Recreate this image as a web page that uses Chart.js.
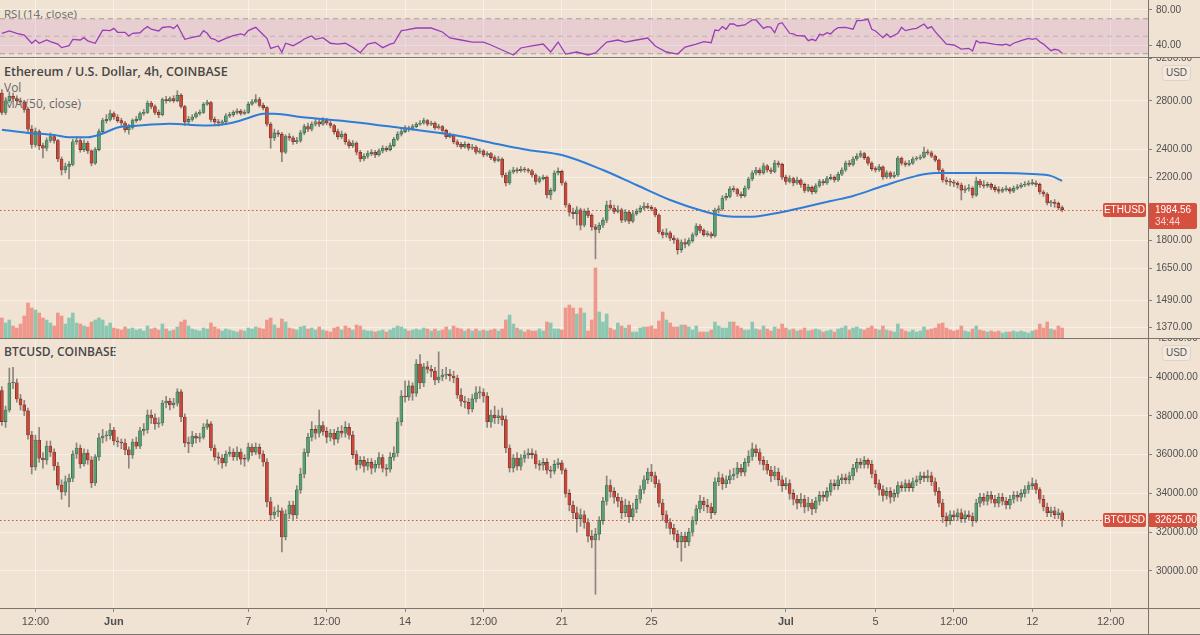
<!DOCTYPE html>
<html>
<head>
<meta charset="utf-8">
<title>ETHUSD / BTCUSD 4h</title>
<script src="https://cdn.jsdelivr.net/npm/chart.js@4.4.1/dist/chart.umd.min.js"></script>
<style>
  html, body { margin:0; padding:0; background:#f1e3d4; }
  #wrap { position:relative; width:1200px; height:635px; overflow:hidden; background:#f1e3d4; font-family:'Open Sans','Liberation Sans',sans-serif; }
  canvas { position:absolute; left:0; z-index:1; }
  .lbl { position:absolute; left:4px; white-space:nowrap; z-index:0; line-height:16px; }
  .sep { position:absolute; background:#7a746e; z-index:2; }
  .usd { position:absolute; left:1162px; width:27px; height:14px; line-height:14px; font-size:10px; text-align:center; color:#555; border:1px solid #e0d3c6; border-radius:3px; background:#f4e9de; z-index:2; font-family:'Liberation Sans',sans-serif; }
</style>
</head>
<body>
<div id="wrap">
  <div class="lbl" style="top:6px;font-size:11.5px;color:#6a6a6a;">RSI (14, close)</div>
  <div class="lbl" style="top:64px;font-size:12.5px;font-weight:600;color:#474747;">Ethereum / U.S. Dollar, 4h, COINBASE</div>
  <div class="lbl" style="top:80px;font-size:12px;color:#666;">Vol</div>
  <div class="lbl" style="top:96px;font-size:12px;color:#666;">MA (50, close)</div>
  <div class="lbl" style="top:344px;font-size:12px;font-weight:600;color:#474747;">BTCUSD, COINBASE</div>
  <canvas id="rsi" width="1200" height="57" style="top:0"></canvas>
  <canvas id="eth" width="1200" height="280" style="top:58px"></canvas>
  <canvas id="btc" width="1200" height="296" style="top:339px"></canvas>
  <div class="sep" style="left:0;top:57px;width:1200px;height:1px"></div>
  <div class="sep" style="left:0;top:338px;width:1200px;height:1px"></div>
  <div class="sep" style="left:0;top:608px;width:1200px;height:1px"></div>
  <div class="sep" style="left:0;top:634px;width:1200px;height:1px"></div>
  <div class="sep" style="left:1148px;top:0;width:1px;height:635px"></div>
  <div class="usd" style="top:65px">USD</div>
  <div class="usd" style="top:345px">USD</div>
</div>
<script>
// ---------------- DATA (4h candles, index 0 = May 27 00:00) ----------------
const xTickIdx    = [9, 30, 66, 87, 108, 129, 150, 174, 210, 234, 255, 276, 297];
const xTickLabels = ['12:00','Jun','7','12:00','14','12:00','21','25','Jul','5','12:00','12','12:00'];

const ethTicks = [3200, 2800, 2400, 2200, 1800, 1650, 1490, 1370];
const btcTicks = [42000, 40000, 38000, 36000, 34000, 32000, 30000];
const rsiTicks = [80, 40];
const rsiUpper = 70, rsiMid = 50, rsiLower = 30;

const ethOpen = [2870,2700,2800,2840,2820,2800,2790,2725,2560,2440,
2540,2430,2410,2470,2500,2470,2330,2250,2275,2290,
2460,2470,2400,2450,2390,2300,2400,2540,2630,2640,
2690,2660,2630,2610,2555,2575,2630,2640,2690,2700,
2780,2750,2700,2680,2810,2800,2820,2800,2850,2750,
2620,2640,2660,2690,2700,2770,2785,2640,2620,2610,
2620,2670,2680,2700,2710,2690,2700,2770,2790,2810,
2760,2740,2600,2490,2530,2520,2380,2500,2490,2460,
2470,2530,2580,2560,2600,2620,2600,2630,2610,2590,
2540,2500,2520,2460,2430,2450,2380,2330,2350,2370,
2380,2360,2390,2410,2400,2430,2480,2520,2540,2570,
2560,2580,2600,2610,2630,2600,2610,2570,2580,2550,
2500,2510,2460,2440,2420,2440,2410,2420,2380,2390,
2360,2370,2340,2320,2330,2215,2160,2236,2250,2245,
2255,2250,2245,2215,2170,2190,2201,2080,2110,2229,
2240,2160,2015,1970,1960,1985,1890,1975,1950,1880,
1865,1890,1920,2015,1996,1975,1985,1921,1970,1915,
1960,1975,1995,2008,2000,1990,1952,1850,1833,1845,
1815,1805,1750,1790,1780,1800,1833,1885,1860,1835,
1840,1827,1983,1990,2060,2070,2120,2115,2086,2075,
2126,2187,2229,2250,2230,2280,2250,2240,2300,2290,
2200,2170,2190,2160,2180,2150,2110,2130,2100,2140,
2170,2160,2190,2200,2180,2220,2250,2300,2290,2330,
2350,2370,2340,2300,2260,2250,2272,2201,2230,2205,
2215,2337,2300,2290,2300,2330,2335,2344,2382,2375,
2350,2322,2250,2180,2170,2165,2159,2146,2112,2120,
2126,2079,2173,2146,2140,2150,2130,2115,2105,2115,
2120,2105,2125,2133,2146,2150,2155,2160,2150,2099,
2086,2028,2030,2025,1998];
const ethHigh = [2900,2830,2880,2870,2845,2825,2805,2740,2590,2570,
2555,2450,2490,2530,2515,2480,2345,2300,2310,2480,
2500,2485,2475,2465,2400,2415,2560,2650,2680,2720,
2705,2680,2650,2625,2600,2645,2665,2705,2725,2800,
2795,2765,2720,2825,2840,2835,2845,2890,2865,2760,
2665,2680,2705,2720,2785,2805,2795,2660,2640,2635,
2690,2700,2715,2730,2725,2720,2790,2810,2855,2830,
2780,2750,2615,2560,2550,2535,2515,2525,2505,2495,
2550,2600,2610,2620,2645,2640,2655,2650,2625,2600,
2560,2545,2530,2475,2470,2460,2395,2370,2390,2400,
2395,2405,2430,2425,2450,2495,2540,2560,2590,2585,
2600,2615,2630,2650,2640,2625,2620,2600,2590,2560,
2530,2520,2475,2455,2460,2450,2440,2430,2410,2400,
2385,2380,2355,2350,2340,2230,2250,2270,2265,2275,
2270,2262,2255,2225,2205,2215,2210,2125,2245,2265,
2250,2170,2025,1995,2005,1995,1990,1995,1960,1895,
1905,1935,2040,2045,2015,2010,1995,1985,1980,1975,
1990,2010,2030,2025,2012,2000,1960,1865,1870,1855,
1830,1815,1805,1810,1815,1845,1900,1895,1870,1855,
1850,1995,2010,2075,2090,2135,2140,2125,2100,2140,
2200,2245,2270,2265,2300,2290,2265,2320,2315,2300,
2215,2210,2200,2200,2190,2160,2150,2140,2155,2185,
2185,2205,2220,2210,2235,2265,2315,2320,2345,2370,
2390,2380,2350,2310,2275,2290,2280,2245,2240,2235,
2350,2345,2315,2320,2345,2350,2360,2420,2400,2390,
2360,2330,2260,2200,2190,2180,2170,2160,2140,2150,
2135,2200,2185,2175,2165,2160,2145,2135,2130,2140,
2130,2140,2150,2160,2170,2175,2185,2175,2160,2110,
2095,2045,2050,2035,2010];
const ethLow = [2680,2680,2785,2795,2770,2760,2700,2540,2410,2420,
2400,2337,2390,2455,2450,2310,2215,2230,2187,2280,
2440,2380,2385,2370,2280,2290,2390,2525,2610,2625,
2640,2615,2590,2535,2520,2560,2615,2630,2675,2690,
2730,2680,2655,2670,2780,2790,2785,2790,2735,2590,
2600,2625,2650,2675,2690,2760,2620,2600,2585,2595,
2610,2655,2665,2685,2675,2680,2690,2760,2780,2745,
2720,2585,2410,2470,2500,2310,2370,2470,2440,2445,
2455,2515,2540,2545,2585,2580,2590,2595,2570,2520,
2480,2485,2440,2410,2415,2360,2310,2315,2335,2355,
2340,2350,2375,2385,2390,2420,2470,2505,2530,2540,
2550,2570,2590,2600,2585,2590,2555,2560,2530,2485,
2490,2445,2420,2405,2410,2395,2400,2365,2370,2345,
2350,2325,2305,2310,2200,2140,2150,2225,2230,2235,
2235,2230,2200,2150,2160,2180,2060,2050,2100,2215,
2145,2000,1945,1930,1891,1862,1880,1935,1860,1700,
1845,1875,1905,1985,1960,1965,1905,1910,1900,1905,
1950,1965,1985,1990,1978,1940,1840,1815,1820,1800,
1785,1725,1735,1760,1770,1790,1825,1845,1825,1825,
1815,1820,1965,1980,2045,2060,2100,2070,2060,2065,
2115,2175,2215,2215,2220,2235,2225,2230,2270,2185,
2150,2160,2140,2150,2130,2095,2100,2085,2090,2130,
2145,2150,2180,2165,2170,2210,2240,2275,2280,2320,
2340,2325,2285,2245,2235,2240,2185,2190,2190,2195,
2205,2285,2275,2280,2290,2320,2325,2335,2360,2340,
2310,2235,2165,2150,2140,2135,2125,2047,2095,2105,
2060,2070,2130,2125,2130,2115,2100,2090,2095,2105,
2090,2095,2115,2125,2135,2140,2145,2135,2085,2070,
2015,2005,2000,1985,1972];
const ethClose = [2700,2800,2840,2820,2800,2790,2725,2560,2440,2540,
2430,2410,2470,2500,2470,2330,2250,2275,2290,2460,
2470,2400,2450,2390,2300,2400,2540,2630,2640,2690,
2660,2630,2610,2555,2575,2630,2640,2690,2700,2780,
2750,2700,2680,2810,2800,2820,2800,2850,2750,2620,
2640,2660,2690,2700,2770,2785,2640,2620,2610,2620,
2670,2680,2700,2710,2690,2700,2770,2790,2810,2760,
2740,2600,2490,2530,2520,2380,2500,2490,2460,2470,
2530,2580,2560,2600,2620,2600,2630,2610,2590,2540,
2500,2520,2460,2430,2450,2380,2330,2350,2370,2380,
2360,2390,2410,2400,2430,2480,2520,2540,2570,2560,
2580,2600,2610,2630,2600,2610,2570,2580,2550,2500,
2510,2460,2440,2420,2440,2410,2420,2380,2390,2360,
2370,2340,2320,2330,2215,2160,2236,2250,2245,2255,
2250,2245,2215,2170,2190,2201,2080,2110,2229,2240,
2160,2015,1970,1960,1985,1890,1975,1950,1880,1865,
1890,1920,2015,1996,1975,1985,1921,1970,1915,1960,
1975,1995,2008,2000,1990,1952,1850,1833,1845,1815,
1805,1750,1790,1780,1800,1833,1885,1860,1835,1840,
1827,1983,1990,2060,2070,2120,2115,2086,2075,2126,
2187,2229,2250,2230,2280,2250,2240,2300,2290,2200,
2170,2190,2160,2180,2150,2110,2130,2100,2140,2170,
2160,2190,2200,2180,2220,2250,2300,2290,2330,2350,
2370,2340,2300,2260,2250,2272,2201,2230,2205,2215,
2337,2300,2290,2300,2330,2335,2344,2382,2375,2350,
2322,2250,2180,2170,2165,2159,2146,2112,2120,2126,
2079,2173,2146,2140,2150,2130,2115,2105,2115,2120,
2105,2125,2133,2146,2150,2155,2160,2150,2099,2086,
2028,2030,2025,1998,1984.56];

// ETH volume, thousands of ETH
const ethVolume = [100,75,90,60,50,70,110,175,150,140,125,100,90,75,60,125,110,70,100,125,75,70,60,55,80,90,100,90,60,75,50,
45,40,55,45,50,40,45,35,60,45,50,40,70,45,35,40,55,80,90,60,45,40,35,50,45,75,55,45,35,45,40,35,30,40,35,50,45,55,50,45,
90,100,65,50,95,80,50,45,40,55,60,45,50,40,55,40,35,30,50,55,40,60,50,40,65,60,40,35,35,30,35,40,30,40,50,60,55,45,35,40,
45,40,50,45,35,45,35,40,55,40,60,50,45,35,45,35,45,35,40,35,40,45,35,
45,90,115,70,50,40,30,40,35,35,45,35,80,75,45,45,40,150,165,150,120,150,125,35,90,350,130,80,120,50,40,75,60,50,65,30,30,50,55,55,60,
45,85,130,90,75,55,55,65,65,55,40,60,30,30,30,40,80,60,50,50,80,80,60,50,40,40,80,
45,40,60,45,35,55,45,70,50,40,45,35,40,50,35,40,45,40,30,35,40,30,45,50,60,40,50,55,45,40,
50,60,45,40,60,40,35,30,70,45,35,30,40,30,35,55,40,45,50,70,75,50,40,35,40,60,35,30,45,60,
40,35,30,35,30,35,25,30,30,35,30,35,30,25,35,40,70,50,80,45,40,60,50];

// MA(50, close)
const maIdx = [0,7,14,18,23,27,31,36,45,54,58,62,66,70,73,80,94,107,121,134,141,150,161,170,179,188,192,196,201,209,214,222,228,236,245,250,258,267,276,281,284];
const maVal = [2555,2530,2513,2495,2495,2525,2573,2588,2605,2590,2594,2614,2652,2688,2688,2660,2619,2569,2513,2435,2397,2359,2250,2146,2047,1975,1952,1942,1942,1971,1996,2040,2073,2139,2209,2229,2229,2229,2222,2209,2174];

// RSI(14, close)
const rsiIdx = [0,2,4,6,8,9,10,12,13,15,16,18,19,21,22,23,25,26,27,29,30,31,33,34,35,37,38,39,40,42,43,45,46,47,49,51,53,54,55,56,57,58,60,62,64,65,66,68,69,71,72,74,75,76,78,80,81,83,84,86,88,90,92,94,96,98,100,101,102,104,105,107,108,111,115,118,120,123,126,129,131,134,137,139,142,145,147,149,151,154,157,159,162,165,167,170,173,175,178,181,183,186,188,190,191,192,193,194,195,196,197,199,201,202,204,205,206,207,208,209,211,212,213,215,216,217,218,219,220,221,222,223,224,226,228,229,230,232,233,234,236,237,238,240,241,242,244,245,247,248,249,250,253,255,257,259,260,261,262,263,266,268,269,270,271,273,275,276,277,278,279,281,282,283,284];
const rsiVal = [53.4,56,53.4,51.4,42,45.7,42,45.7,43.8,41,37,39.2,46.5,45.7,48.4,44.6,42,49.5,57,56.4,59,54.5,54.5,50.3,53.4,54,58,61,58,56,60,61,59,62.9,46.5,48.8,50.3,56.4,53.4,47.6,46.5,43.8,47.6,50.6,52.6,51.4,56.4,60.2,56,47.6,36.2,38.9,31.6,42,39.2,43.8,46.9,50.3,46.5,48.4,42,41,42,37.3,31.2,41,43,40,37,41,42,56.4,57,59.4,59.4,54.9,48,45.7,43.4,43.4,40,34.3,28.6,36.6,38.9,41.1,32,43.4,29.7,32,28.6,30.9,43.4,45.7,43.4,45.7,48,38.9,32,29.7,37.7,41.1,43.8,42.6,57.1,56.4,61,58,64,64,61.7,62.9,68.6,68.6,59,61,60.2,54,64,65.5,53.4,52.6,50.6,50.3,44.9,46.5,44.9,52.2,51.4,54,52.6,57.1,59.8,60.2,58,67.8,67.8,69.4,58,56,48.4,52.6,48.8,53.4,60.2,56.4,58.3,59,64,59,61,55.2,41,40,35.4,36.2,33.1,44.9,42.6,43,40.8,40,41,39.2,42,44.9,47.6,46.5,47.6,43.8,41,33.5,35.1,34.3,30.5];

const btcOpen = [39300,37700,38300,39690,39700,38870,38560,38250,37010,35360,
36750,35820,35720,36440,36130,35410,34430,34070,34590,34790,
36030,36340,35520,36080,35720,34540,35880,36860,36960,36990,
37270,36700,36650,36600,36240,35980,36650,36440,37220,37300,
38040,37890,37580,37630,38660,38760,38560,38650,39230,37940,
36600,36570,36960,36850,36900,37420,37580,36340,35880,35820,
35570,36030,36130,35880,36130,35770,35760,36390,36130,36380,
36030,35620,33560,32890,33040,33100,31750,32940,33400,32890,
34180,35000,36100,36900,37300,37100,37500,37200,36900,37100,
36800,37200,37100,37400,37000,36000,35500,35700,35400,35600,
35300,35500,35850,35300,35250,35870,36080,37680,39020,38970,
39540,39170,40670,39690,40520,40400,40300,39850,40000,40100,
40150,40050,39950,39070,38760,38700,38350,38870,39180,39200,
39020,37680,38040,37900,38000,37800,36340,35310,35820,35400,
35820,35980,36080,36000,35520,35450,35600,35200,35150,35500,
35570,35200,34000,33400,33000,32700,32900,32500,31800,31600,
31900,32600,33600,34400,34100,33800,33600,33000,33400,32800,
33200,33700,34200,34700,35100,34900,34500,33500,32900,32500,
32200,31900,31500,31800,31500,32000,32600,33200,33600,33400,
33300,33000,34600,34800,34500,34700,34900,35000,35300,35100,
35600,35900,36300,36100,35700,35500,35200,34900,35100,34700,
34400,34500,34000,33700,33500,33700,33300,33500,33200,33600,
33900,33800,34100,34500,34400,34700,34800,34700,34900,35300,
35600,35500,35700,35500,35000,34500,34200,33900,34100,33800,
34000,34400,34300,34500,34300,34600,34700,34900,34800,34900,
34600,34100,33500,32800,32600,32900,32800,33000,32700,32900,
32800,32600,33500,33800,33600,33900,33700,33500,33800,33600,
33400,33700,33900,33800,34000,34200,34400,34500,34200,33700,
33300,33000,33100,32900,33000];
const btcHigh = [39500,38500,40460,40500,39900,39100,38800,38400,37200,37000,
37400,36100,36700,36700,36300,35600,34700,34900,35000,36200,
36600,36500,36300,36250,35900,36000,37100,37300,37200,37600,
37400,36900,36800,36800,36400,36800,36900,37400,37600,38300,
38300,38100,37900,38800,39000,38900,38900,39400,39350,38100,
36900,37200,37100,37100,37600,37800,37700,36500,36100,36000,
36200,36400,36300,36400,36300,36000,36600,36550,36600,36550,
36200,35800,33800,33300,33400,33250,33150,33600,33600,34400,
35300,36300,37100,37700,37500,38300,37700,37400,37300,37300,
37400,37500,37700,37600,37200,36200,35900,35900,35800,35800,
35700,36100,36000,35500,36100,36400,37900,39300,39800,39800,
39700,40900,41150,40700,40800,40600,40500,41300,40400,40500,
40400,40300,40100,39400,39000,38900,39100,39500,39500,39400,
39200,38300,38500,38300,38400,38000,36500,36000,36100,36000,
36200,36300,36300,36200,35700,35800,35800,35400,35700,35800,
35700,35300,34200,33600,33300,33200,33100,32700,32100,32200,
32800,33800,34900,34700,34300,34000,33800,33700,33600,33500,
33900,34400,34900,35300,35500,35100,34700,33700,33100,32700,
32400,32100,32000,32000,32200,32800,33400,33900,33800,33700,
33500,34800,35100,35000,34900,35200,35300,35600,35500,35800,
36200,36600,36500,36300,35900,35700,35400,35400,35300,34900,
34800,34700,34200,33900,34000,33900,33800,33700,33800,34100,
34100,34300,34700,34700,34900,35000,35000,35100,35500,35800,
35800,35900,35800,35700,35200,34700,34400,34300,34300,34200,
34600,34600,34700,34700,34800,34900,35100,35100,35200,35100,
34800,34300,33700,33000,33100,33100,33200,33200,33100,33100,
33000,33700,34000,34000,34100,34100,33900,34000,34000,33800,
33900,34100,34100,34200,34400,34600,34800,34700,34300,33900,
33500,33300,33300,33200,33100];
const btcLow = [37500,37400,38200,39400,38700,38300,38000,36800,35000,35200,
35600,35300,35500,35900,35200,34200,33700,33900,33300,34600,
35800,35300,35400,35500,34300,34400,35700,36600,36700,36800,
36500,36400,36300,36000,35300,35800,36300,36300,37000,37100,
37600,37300,37400,37500,38400,38300,38400,38500,37700,36400,
36100,36400,36600,36650,36800,37300,36200,35700,35500,35300,
35400,35900,35700,35700,35500,35400,35650,35950,36000,35800,
35400,33300,32600,32700,32800,30980,31600,32700,32600,32700,
34000,34800,35900,36700,36800,36900,37000,36600,36700,36500,
36600,36900,36900,36800,35800,35200,35300,35100,35200,35000,
35100,35300,35100,34900,35100,35700,35900,37500,38700,38800,
38800,39000,39400,39500,40200,40000,39600,39700,39800,39900,
39800,39700,38900,38500,38400,38100,38200,38700,38900,38700,
37400,37400,37600,37600,37500,36100,35100,35100,35200,35200,
35600,35800,35800,35300,35200,35200,35000,34800,35000,35300,
35000,33800,33100,32700,32000,32300,32200,31500,31200,28800,
31600,32400,33400,33800,33500,33300,32700,32800,32500,32600,
33000,33500,34000,34500,34600,34300,33300,32600,32200,31900,
31600,31200,30500,31200,31300,31800,32400,33000,33100,33000,
32700,32900,34400,34200,34300,34500,34700,34800,34900,34900,
35400,35700,35900,35500,35200,35000,34600,34700,34400,34100,
34200,33700,33400,33200,33300,33000,33100,32900,33000,33400,
33600,33600,33900,34200,34200,34500,34500,34500,34700,35100,
35300,35300,35300,34800,34300,33900,33600,33700,33500,33600,
33800,34100,34100,34100,34100,34400,34500,34600,34600,34400,
33900,33300,32500,32300,32400,32600,32600,32500,32500,32600,
32300,32500,33300,33400,33400,33500,33300,33300,33400,33200,
33200,33500,33600,33600,33800,34000,34200,34000,33500,33100,
32800,32800,32700,32700,32300];
const btcClose = [37700,38300,39690,39700,38870,38560,38250,37010,35360,36750,
35820,35720,36440,36130,35410,34430,34070,34590,34790,36030,
36340,35520,36080,35720,34540,35880,36860,36960,36990,37270,
36700,36650,36600,36240,35980,36650,36440,37220,37300,38040,
37890,37580,37630,38660,38760,38560,38650,39230,37940,36600,
36570,36960,36850,36900,37420,37580,36340,35880,35820,35570,
36030,36130,35880,36130,35770,35760,36390,36130,36380,36030,
35620,33560,32890,33040,33100,31750,32940,33400,32890,34180,
35000,36100,36900,37300,37100,37500,37200,36900,37100,36800,
37200,37100,37400,37000,36000,35500,35700,35400,35600,35300,
35500,35850,35300,35250,35870,36080,37680,39020,38970,39540,
39170,40670,39690,40520,40400,40300,39850,40000,40100,40150,
40050,39950,39070,38760,38700,38350,38870,39180,39200,39020,
37680,38040,37900,38000,37800,36340,35310,35820,35400,35820,
35980,36080,36000,35520,35450,35600,35200,35150,35500,35570,
35200,34000,33400,33000,32700,32900,32500,31800,31600,31900,
32600,33600,34400,34100,33800,33600,33000,33400,32800,33200,
33700,34200,34700,35100,34900,34500,33500,32900,32500,32200,
31900,31500,31800,31500,32000,32600,33200,33600,33400,33300,
33000,34600,34800,34500,34700,34900,35000,35300,35100,35600,
35900,36300,36100,35700,35500,35200,34900,35100,34700,34400,
34500,34000,33700,33500,33700,33300,33500,33200,33600,33900,
33800,34100,34500,34400,34700,34800,34700,34900,35300,35600,
35500,35700,35500,35000,34500,34200,33900,34100,33800,34000,
34400,34300,34500,34300,34600,34700,34900,34800,34900,34600,
34100,33500,32800,32600,32900,32800,33000,32700,32900,32800,
32600,33500,33800,33600,33900,33700,33500,33800,33600,33400,
33700,33900,33800,34000,34200,34400,34500,34200,33700,33300,
33000,33100,32900,33000,32625];

const ethCountdown = '34:44';

// ---------------- STYLE ----------------
const FONT = "'Liberation Sans', Arial, sans-serif";
const xMin = -0.5, xMax = 307;
const gridColor = 'rgba(255,255,255,0.45)';
const tickMarkColor = '#8a847e';
const labelColor = '#4f4f4f';
const upFill = '#5c9e74', upBorder = '#2f5b3f';
const downFill = '#c8493b', downBorder = '#6e261c';
const wickColor = '#8b857d';
const volUp = '#8cc7b1', volDown = '#ee978b';
const tagRed = '#d5503f';

Chart.defaults.font.family = FONT;
Chart.defaults.animation = false;

function xScale(showLabels) {
  return {
    type: 'linear', min: xMin, max: xMax, offset: false, bounds: 'data',
    grid: { color: gridColor, offset: false, drawTicks: showLabels, tickLength: 4, tickColor: tickMarkColor },
    border: { display: false },
    ticks: {
      display: showLabels, autoSkip: false, maxRotation: 0, minRotation: 0, padding: 3, color: labelColor,
      font: (ctx) => ({ family: FONT, size: 11, weight: (xTickLabels[ctx.index] === 'Jun' || xTickLabels[ctx.index] === 'Jul') ? 'bold' : 'normal' }),
      callback: (v, i) => xTickLabels[i]
    },
    afterBuildTicks: (s) => { s.ticks = xTickIdx.map(v => ({ value: v })); },
    afterFit: (s) => { s.height = showLabels ? 27 : 0; s.paddingLeft = 0; s.paddingRight = 0; }
  };
}

function yScale(type, min, max, ticks) {
  return {
    type, min, max, position: 'right', bounds: 'data',
    grid: { color: gridColor, drawTicks: true, tickLength: 4, tickColor: tickMarkColor },
    border: { display: false },
    ticks: { color: labelColor, font: { family: FONT, size: 10 }, padding: 4, autoSkip: false, callback: (v) => Number(v).toFixed(2) },
    afterBuildTicks: (s) => { s.ticks = ticks.map(v => ({ value: v })); },
    afterFit: (s) => { s.width = 52; s.paddingTop = 0; s.paddingBottom = 0; }
  };
}

function candleDatasets(open, high, low, close) {
  const up = close.map((c, i) => c >= open[i]);
  return [
    {
      type: 'bar', label: 'wick', order: 3, grouped: false, barThickness: 1,
      data: close.map((c, i) => ({ x: i, y: [low[i], high[i]] })),
      backgroundColor: wickColor, borderWidth: 0
    },
    {
      type: 'bar', label: 'body', order: 2, grouped: false, barThickness: 3, minBarLength: 1,
      data: close.map((c, i) => ({ x: i, y: [open[i], c] })),
      backgroundColor: up.map(u => u ? upFill : downFill),
      borderColor: up.map(u => u ? upBorder : downBorder),
      borderWidth: 0.6, borderSkipped: false
    }
  ];
}

function lastPricePlugin(name, value, valueText, line2) {
  return {
    id: 'last_' + name,
    beforeDatasetsDraw(chart) {
      const { ctx, chartArea } = chart;
      const y = Math.round(chart.scales.y.getPixelForValue(value)) + 0.5;
      ctx.save();
      ctx.strokeStyle = tagRed; ctx.lineWidth = 1; ctx.setLineDash([1.5, 2.5]);
      ctx.beginPath(); ctx.moveTo(chartArea.left, y); ctx.lineTo(chartArea.right - 46, y); ctx.stroke();
      ctx.restore();
    },
    afterDraw(chart) {
      const { ctx, chartArea } = chart;
      const y = Math.round(chart.scales.y.getPixelForValue(value));
      const r = chartArea.right;
      ctx.save();
      ctx.fillStyle = tagRed;
      ctx.beginPath(); ctx.roundRect(r - 45, y - 7, 43, 14, 2); ctx.fill();
      ctx.beginPath(); ctx.roundRect(r, y - 7, 49, line2 ? 26 : 14, 2); ctx.fill();
      ctx.fillStyle = '#ffffff';
      ctx.font = '10px ' + FONT;
      ctx.textBaseline = 'middle';
      ctx.textAlign = 'center';
      ctx.fillText(name, r - 23.5, y + 0.5);
      ctx.textAlign = 'left';
      ctx.fillText(valueText, r + 7, y + 0.5);
      if (line2) { ctx.fillStyle = 'rgba(255,255,255,0.78)'; ctx.fillText(line2, r + 7, y + 12.5); }
      ctx.restore();
    }
  };
}

const baseOptions = {
  responsive: false, maintainAspectRatio: false, animation: false, events: [],
  layout: { padding: 0, autoPadding: false },
  plugins: { legend: { display: false }, tooltip: { enabled: false } }
};

// ---------------- RSI pane ----------------
new Chart(document.getElementById('rsi'), {
  type: 'line',
  data: {
    datasets: [
      { data: [{ x: xMin, y: rsiUpper }, { x: xMax, y: rsiUpper }], borderColor: '#a89d95', borderWidth: 1, borderDash: [5, 4], pointRadius: 0, fill: false, order: 3 },
      { data: [{ x: xMin, y: rsiLower }, { x: xMax, y: rsiLower }], borderColor: '#a89d95', borderWidth: 1, borderDash: [5, 4], pointRadius: 0, fill: '-1', backgroundColor: 'rgba(160,60,190,0.12)', order: 3 },
      { data: [{ x: xMin, y: rsiMid }, { x: xMax, y: rsiMid }], borderColor: 'rgba(150,140,135,0.45)', borderWidth: 1, borderDash: [5, 4], pointRadius: 0, fill: false, order: 3 },
      { data: rsiIdx.map((x, i) => ({ x, y: rsiVal[i] })), borderColor: '#9b3db6', borderWidth: 1.3, pointRadius: 0, tension: 0, fill: false, order: 1 }
    ]
  },
  options: Object.assign({}, baseOptions, {
    scales: { x: xScale(false), y: yScale('linear', 26.3, 91.4, rsiTicks) }
  })
});

// ---------------- ETH pane ----------------
const ethScales = {
  x: xScale(false),
  y: yScale('logarithmic', 1323.8, 3205, ethTicks),
  vol: { type: 'linear', display: false, min: 0, max: 1400, position: 'left' }
};
new Chart(document.getElementById('eth'), {
  type: 'bar',
  data: {
    datasets: [
      {
        type: 'bar', label: 'Vol', yAxisID: 'vol', order: 5, grouped: false, barThickness: 3,
        data: ethVolume.map((v, i) => ({ x: i, y: v })),
        backgroundColor: ethClose.map((c, i) => c >= ethOpen[i] ? volUp : volDown), borderWidth: 0
      },
      ...candleDatasets(ethOpen, ethHigh, ethLow, ethClose),
      {
        type: 'line', label: 'MA', order: 1,
        data: maIdx.map((x, i) => ({ x, y: maVal[i] })),
        borderColor: '#2f7dd6', borderWidth: 2, pointRadius: 0, tension: 0.4, cubicInterpolationMode: 'monotone', fill: false
      }
    ]
  },
  options: Object.assign({}, baseOptions, { scales: ethScales }),
  plugins: [lastPricePlugin('ETHUSD', ethClose[ethClose.length - 1], ethClose[ethClose.length - 1].toFixed(2), ethCountdown)]
});

// ---------------- BTC pane ----------------
new Chart(document.getElementById('btc'), {
  type: 'bar',
  data: { datasets: candleDatasets(btcOpen, btcHigh, btcLow, btcClose) },
  options: Object.assign({}, baseOptions, {
    scales: { x: xScale(true), y: yScale('linear', 28092, 41959, btcTicks) }
  }),
  plugins: [lastPricePlugin('BTCUSD', btcClose[btcClose.length - 1], btcClose[btcClose.length - 1].toFixed(2), null)]
});
</script>
</body>
</html>
